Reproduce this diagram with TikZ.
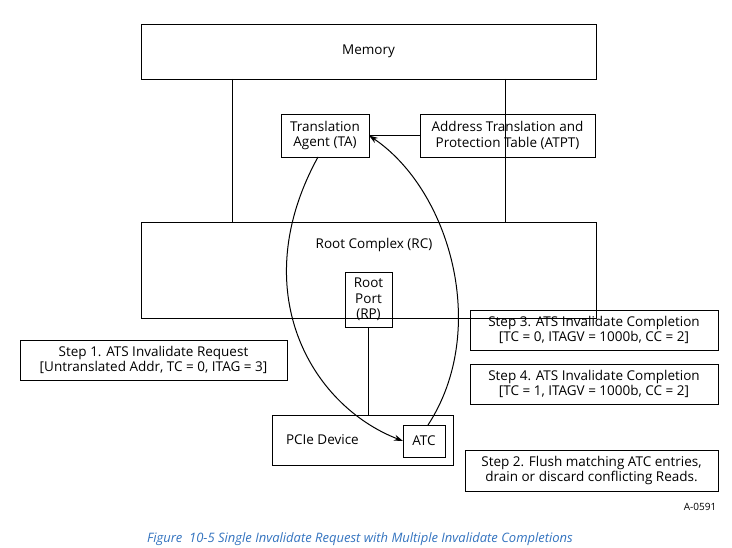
\documentclass[tikz,border=0pt]{standalone}
\usepackage{fontspec}
\setmainfont{Open Sans}
\usetikzlibrary{positioning}
\usetikzlibrary{arrows.meta}
\definecolor{capblue}{rgb}{0.2, 0.45, 0.75}

\begin{document}
\begin{tikzpicture}[x=1pt,y=-1pt]
  \tikzset{BoxStyle/.style = {
    shape         = rectangle,
    draw          = black,
    line width    = 0.6pt,
    text          = black,
    inner sep     = 0pt,
    outer sep     = 0pt,
    align         = center,
    font          = \fontsize{13.5}{15.5}\selectfont
    }
  }
  \tikzset{TextStyle/.style = {
    BoxStyle,
    draw          = none
    }
  }
  \tikzset{LinkStyle/.style = {
    draw          = black,
    line width    = 0.6pt
    }
  }
  \tikzset{StepStyle/.style = {
    BoxStyle,
    minimum width = 248pt,
    minimum height= 40pt
    }
  }
  \tikzset{ArcStyle/.style = {
    draw          = black,
    line width    = 1pt,
    -{Stealth[length=9pt,width=6pt]}
    }
  }

	\useasboundingbox (0,0) rectangle (732,548);
	\node[BoxStyle, minimum width=455pt, minimum height=55pt](MEM) at (368.5, 51.5) {Memory};
	\node[BoxStyle, minimum width=455pt, minimum height=96pt](RC) at (368.5, 270) {};
	\node[TextStyle](RCL) at (374, 245) {Root Complex (RC)};
	\node[BoxStyle, minimum width=88pt, minimum height=43pt](TA) at (325, 135.5) {Translation\\Agent (TA)};
	\node[BoxStyle, minimum width=175pt, minimum height=43pt](ATPT) at (507.5, 135.5) {Address Translation and\\Protection Table (ATPT)};
	\node[BoxStyle, minimum width=47pt, minimum height=55pt](RP) at (368.5, 299.5) {Root\\Port\\(RP)};
	\node[BoxStyle, minimum width=181pt, minimum height=50pt](DEV) at (362.5, 440) {};
	\node[TextStyle, right=0pt of DEV.west, xshift=14pt](DEVL) {PCIe Device};
	\node[BoxStyle, minimum width=42pt, minimum height=32pt](ATC) at (424, 441) {ATC};

	\node[StepStyle, minimum width=267pt](S1) at (153.5, 360) {Step 1. ATS Invalidate Request\\{}[Untranslated Addr, TC = 0, ITAG = 3]};
	\node[StepStyle](S3) at (594, 330) {Step 3. ATS Invalidate Completion\\{}[TC = 0, ITAGV = 1000b, CC = 2]};
	\node[StepStyle](S4) at (594, 384) {Step 4. ATS Invalidate Completion\\{}[TC = 1, ITAGV = 1000b, CC = 2]};
	\node[StepStyle, minimum width=253pt, minimum height=41pt](S2) at (591.5, 470.5) {Step 2. Flush matching ATC entries,\\drain or discard conflicting Reads.};

	\coordinate (ML) at (232, 79);
	\coordinate (MR) at (505, 79);
	\draw[LinkStyle] (ML) -- (ML |- RC.north);
	\draw[LinkStyle] (MR) -- (MR |- RC.north);
	\draw[LinkStyle] (TA) -- (ATPT);
	\draw[LinkStyle] (RP.south) -- (RP.south |- DEV.north);

	\draw[ArcStyle] (318, 157) .. controls (245, 290) and (310, 405) .. (ATC.west);
	\draw[ArcStyle] (428, 425) .. controls (490, 330) and (450, 190) .. (TA.east);

	\node[font=\fontsize{10}{12}\selectfont](TAG) at (700, 507) {A-0591};
	\node[font=\fontsize{13}{15}\selectfont\itshape, text=capblue](CAP) at (360, 539) {Figure\ \ 10-5 Single Invalidate Request with Multiple Invalidate Completions};
\end{tikzpicture}
\end{document}
